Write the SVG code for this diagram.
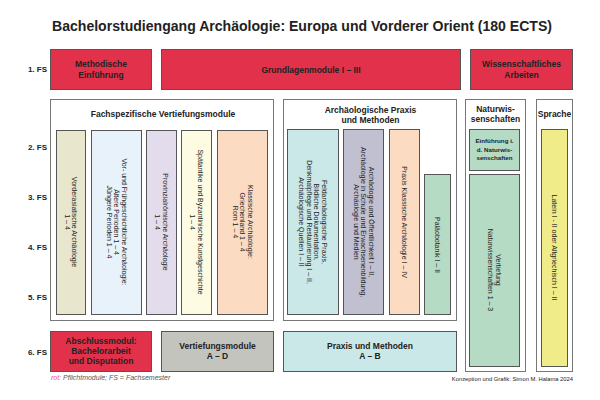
<svg xmlns="http://www.w3.org/2000/svg" width="600" height="400" viewBox="0 0 600 400">
<style>
text{font-family:"Liberation Sans",Arial,sans-serif;fill:#222}
.t{font-size:14px;font-weight:bold}
.fs{font-size:8px;font-weight:bold;text-anchor:end}
.b{font-size:8.5px;font-weight:bold;text-anchor:middle}
.h{font-size:8.5px;font-weight:bold;text-anchor:middle}
.r{font-size:7px;text-anchor:middle}
.s{font-size:6.2px;font-weight:bold;text-anchor:middle}
.box{stroke:#555;stroke-width:1}
.cont{fill:#fff;stroke:#777;stroke-width:1}
.red{fill:#e2314a}
</style>
<text class="t" x="52" y="31" textLength="500" lengthAdjust="spacingAndGlyphs">Bachelorstudiengang Archäologie: Europa und Vorderer Orient (180 ECTS)</text>

<g id="semester-labels">
<text class="fs" x="47" y="72">1. FS</text>
<text class="fs" x="47" y="150">2. FS</text>
<text class="fs" x="47" y="200">3. FS</text>
<text class="fs" x="47" y="250">4. FS</text>
<text class="fs" x="47" y="300">5. FS</text>
<text class="fs" x="47" y="355">6. FS</text>
</g>

<g id="connectors"></g>

<g id="methodische">
<rect class="box red" x="50.5" y="49.5" width="101" height="40"/>
<text class="b" x="101" y="67">Methodische</text>
<text class="b" x="101" y="78">Einführung</text>
</g>
<g id="grundlagen">
<rect class="box red" x="161.5" y="49.5" width="299" height="40"/>
<text class="b" x="311" y="72.5">Grundlagenmodule I – III</text>
</g>
<g id="wissenschaftliches">
<rect class="box red" x="470.5" y="49.5" width="102" height="40"/>
<text class="b" x="521.5" y="67">Wissenschaftliches</text>
<text class="b" x="521.5" y="78">Arbeiten</text>
</g>

<g id="fachspezifisch">
<rect class="cont" x="50.5" y="99.5" width="223" height="221"/>
<text class="h" x="163" y="117">Fachspezifische Vertiefungsmodule</text>
</g>
<g id="vorderasiatisch">
<rect class="box" fill="#e8e6cd" x="56.5" y="130.5" width="29" height="184"/>
<g transform="translate(71,222) rotate(90)"><text class="r"><tspan x="0" y="-1.3">Vorderasiatische Archäologie</tspan><tspan x="0" y="6.2">1 – 4</tspan></text></g>
</g>
<g id="vorundfrueh">
<rect class="box" fill="#e8f2fb" x="91.5" y="130.5" width="50" height="184"/>
<g transform="translate(116.5,222) rotate(90)"><text class="r"><tspan x="0" y="-5.05">Vor- und Frühgeschichtliche Archäologie:</tspan><tspan x="0" y="2.45">Ältere Perioden 1 – 4</tspan><tspan x="0" y="9.95">Jüngere Perioden 1 – 4</tspan></text></g>
</g>
<g id="provinzial">
<rect class="box" fill="#e3dcec" x="146.5" y="130.5" width="30" height="184"/>
<g transform="translate(161.5,222) rotate(90)"><text class="r"><tspan x="0" y="-1.3">Provinzialrömische Archäologie</tspan><tspan x="0" y="6.2">1 – 4</tspan></text></g>
</g>
<g id="spaetantike">
<rect class="box" fill="#fdfbe1" x="181.5" y="130.5" width="30" height="184"/>
<g transform="translate(196.5,222) rotate(90)"><text class="r"><tspan x="0" y="-1.3">Spätantike und Byzantinische Kunstgeschichte</tspan><tspan x="0" y="6.2">1 – 4</tspan></text></g>
</g>
<g id="klassisch">
<rect class="box" fill="#fbdcc3" x="217.5" y="130.5" width="50" height="184"/>
<g transform="translate(242.5,222) rotate(90)"><text class="r"><tspan x="0" y="-5.05">Klassische Archäologie:</tspan><tspan x="0" y="2.45">Griechenland 1 – 4</tspan><tspan x="0" y="9.95">Rom 1 – 4</tspan></text></g>
</g>

<g id="praxis">
<rect class="cont" x="283.5" y="99.5" width="173" height="221"/>
<text class="h" x="370.5" y="113">Archäologische Praxis</text>
<text class="h" x="370.5" y="122.5">und Methoden</text>
</g>
<g id="feldarch">
<rect class="box" fill="#cbe8e8" x="287.5" y="129.5" width="51" height="185"/>
<g transform="translate(313,222) rotate(90)"><text class="r"><tspan x="0" y="-8.8">Feldarchäologische Praxis,</tspan><tspan x="0" y="-1.3">Bildliche Dokumentation,</tspan><tspan x="0" y="6.2">Denkmalpflege und Restaurierung I – II,</tspan><tspan x="0" y="13.7">Archäologische Quellen I – II</tspan></text></g>
</g>
<g id="oeffentlichkeit">
<rect class="box" fill="#c1c0d1" x="343.5" y="129.5" width="40" height="185"/>
<g transform="translate(363.5,222) rotate(90)"><text class="r"><tspan x="0" y="-5.05">Archäologie und Öffentlichkeit I – II,</tspan><tspan x="0" y="2.45">Archäologie in Schule und Erwachsenenbildung,</tspan><tspan x="0" y="9.95">Archäologie und Medien</tspan></text></g>
</g>
<g id="praxisklass">
<rect class="box" fill="#fbdcc3" x="389.5" y="129.5" width="30" height="185"/>
<g transform="translate(404.5,222) rotate(90)"><text class="r"><tspan x="0" y="2.45">Praxis Klassische Archäologie I – IV</tspan></text></g>
</g>
<g id="palaeobotanik">
<rect class="box" fill="#b5dbc5" x="424.5" y="174.5" width="26" height="140"/>
<g transform="translate(437.5,245) rotate(90)"><text class="r"><tspan x="0" y="2.45">Paläobotanik I – II</tspan></text></g>
</g>

<g id="naturwissenschaften">
<rect class="cont" x="465.5" y="99.5" width="60" height="272"/>
<text class="h" x="495.5" y="112">Naturwis-</text>
<text class="h" x="495.5" y="122">senschaften</text>
</g>
<g id="einfuehrung-nw">
<rect class="box" fill="#b5dbc5" x="469.5" y="129.5" width="50" height="41"/>
<text class="s" x="494.5" y="143">Einführung i.</text>
<text class="s" x="494.5" y="151.5">d. Naturwis-</text>
<text class="s" x="494.5" y="160">senschaften</text>
</g>
<g id="vertiefung-nw">
<rect class="box" fill="#b5dbc5" x="469.5" y="174.5" width="50" height="192"/>
<g transform="translate(494.5,270) rotate(90)"><text class="r"><tspan x="0" y="-1.3">Vertiefung</tspan><tspan x="0" y="6.2">Naturwissenschaften 1 – 3</tspan></text></g>
</g>

<g id="sprache">
<rect class="cont" x="536.5" y="99.5" width="36" height="272"/>
<text class="h" x="554.5" y="117">Sprache</text>
</g>
<g id="latein">
<rect class="box" fill="#f0ec8a" x="541.5" y="129.5" width="26" height="237"/>
<g transform="translate(554.5,247.5) rotate(90)"><text class="r"><tspan x="0" y="2.45">Latein I - II oder Altgriechisch I – II</tspan></text></g>
</g>

<g id="abschluss">
<rect class="box red" x="50.5" y="331.5" width="101" height="40"/>
<text class="b" x="101" y="343.5">Abschlussmodul:</text>
<text class="b" x="101" y="353.5">Bachelorarbeit</text>
<text class="b" x="101" y="364">und Disputation</text>
</g>
<g id="vertiefungsmodule">
<rect class="box" fill="#c4c4bf" x="161.5" y="331.5" width="112" height="40"/>
<text class="b" x="217.5" y="349">Vertiefungsmodule</text>
<text class="b" x="217.5" y="359">A – D</text>
</g>
<g id="praxismethoden">
<rect class="box" fill="#cbe8e8" x="283.5" y="331.5" width="173" height="40"/>
<text class="b" x="370" y="349">Praxis und Methoden</text>
<text class="b" x="370" y="359">A – B</text>
</g>

<text x="51" y="380" font-size="7" font-style="italic"><tspan fill="#e8508a">rot:</tspan><tspan fill="#555"> Pflichtmodule; FS = Fachsemester</tspan></text>
<text x="573" y="381" font-size="5.8" text-anchor="end" fill="#444">Konzeption und Grafik: Simon M. Halama 2024</text>
</svg>
